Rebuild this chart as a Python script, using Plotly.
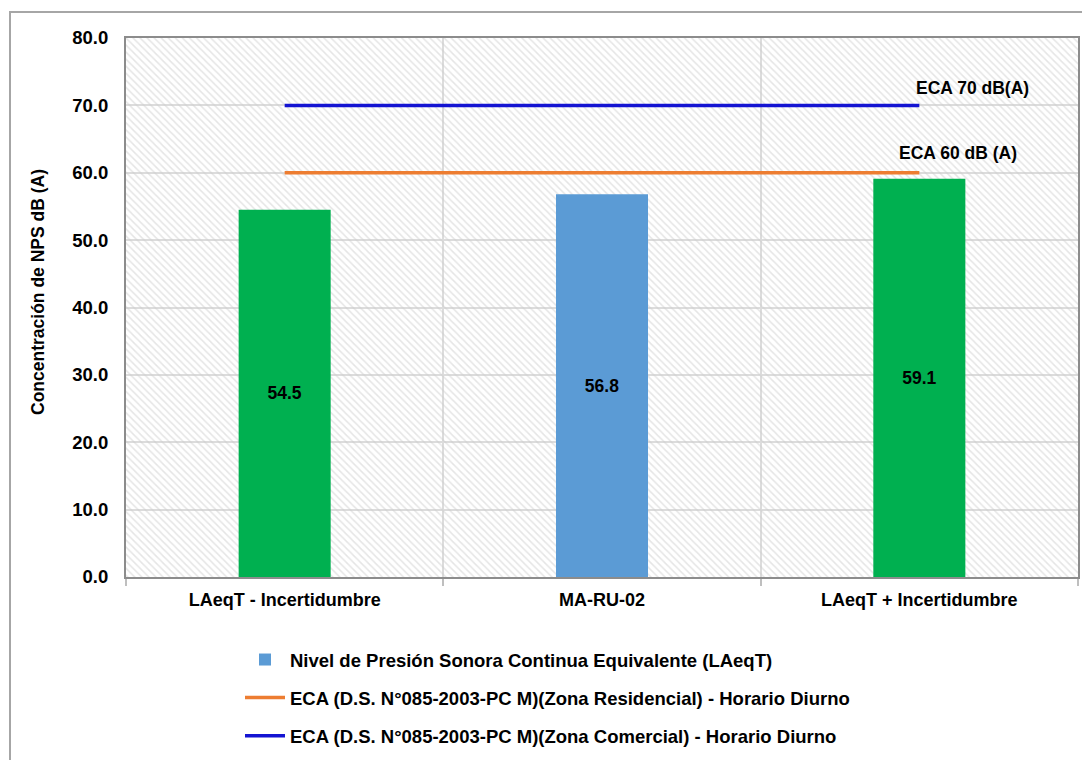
import plotly.graph_objects as go

categories = ["LAeqT - Incertidumbre", "MA-RU-02", "LAeqT + Incertidumbre"]
laeqt_values = [54.5, 56.8, 59.1]
eca_residencial = [60.0, 60.0, 60.0]
eca_comercial = [70.0, 70.0, 70.0]
y_ticks = [0, 10, 20, 30, 40, 50, 60, 70, 80]

FONT = "Liberation Sans, Arial, sans-serif"
GREEN = "#00B050"
BLUE_BAR = "#5B9BD5"
ORANGE = "#ED7D31"
BLUE_LINE = "#1414D2"

fig = go.Figure()

# hatched background of the plot area
fig.add_trace(go.Bar(
    x=[categories[1]], y=[y_ticks[-1]], width=[3],
    marker=dict(color="rgba(0,0,0,0)", line=dict(width=0),
                pattern=dict(shape="\\", fgcolor="#cccccc", bgcolor="rgba(0,0,0,0)",
                             size=5, solidity=0.3, fillmode="overlay")),
    showlegend=False, hoverinfo="skip", legendgroup="bg",
))

# green bars (uncertainty bounds)
fig.add_trace(go.Bar(
    x=[categories[0], categories[2]], y=[laeqt_values[0], laeqt_values[2]],
    width=0.29, marker=dict(color=GREEN, line=dict(width=0)),
    text=[f"{laeqt_values[0]:.1f}", f"{laeqt_values[2]:.1f}"],
    textposition="inside", insidetextanchor="middle",
    textfont=dict(family=FONT, size=17.5, color="black", weight="bold"),
    showlegend=False, legendgroup="g0",
))

# blue bar
fig.add_trace(go.Bar(
    x=[categories[1]], y=[laeqt_values[1]],
    width=0.29, marker=dict(color=BLUE_BAR, line=dict(width=0)),
    text=[f"{laeqt_values[1]:.1f}"],
    textposition="inside", insidetextanchor="middle",
    textfont=dict(family=FONT, size=17.5, color="black", weight="bold"),
    name="Nivel de Presión Sonora Continua Equivalente (LAeqT)",
    legendgroup="g1",
))

fig.add_trace(go.Scatter(
    x=categories, y=eca_residencial, mode="lines",
    line=dict(color=ORANGE, width=3.5),
    name="ECA (D.S. N°085-2003-PC M)(Zona Residencial) - Horario Diurno",
    legendgroup="g2",
))
fig.add_trace(go.Scatter(
    x=categories, y=eca_comercial, mode="lines",
    line=dict(color=BLUE_LINE, width=3.5),
    name="ECA (D.S. N°085-2003-PC M)(Zona Comercial) - Horario Diurno",
    legendgroup="g3",
))

# page offset (body margin) of the rendered figure
OFF = 8
W, H = 1090 - OFF, 760 - OFF
L, T = 126 - OFF, 38 - OFF
R = W - (1078 - OFF)
B = H - (577 - OFF)
pw, ph = W - L - R, H - T - B

def px_x(px):
    return (px - OFF - L) / pw

def px_y(py):
    return (H - B - (py - OFF)) / ph

def cont_y(py):
    return 1 - (py - OFF) / H

fig.update_layout(
    width=W, height=H,
    margin=dict(l=L, r=R, t=T, b=B, autoexpand=False),
    paper_bgcolor="white", plot_bgcolor="white",
    barmode="overlay",
    font=dict(family=FONT, size=18, color="black"),
    showlegend=True,
    legend=dict(
        xref="paper", yref="container",
        x=px_x(240), y=cont_y(641), xanchor="left", yanchor="top",
        orientation="v", traceorder="grouped", tracegroupgap=11,
        font=dict(family=FONT, size=18.5, color="black", weight="bold"),
        bgcolor="rgba(0,0,0,0)", itemwidth=40,
    ),
    xaxis=dict(
        type="category", categoryorder="array", categoryarray=categories,
        range=[-0.5, 2.5], tickson="boundaries",
        showgrid=True, gridcolor="#dcdcdc", gridwidth=1.5,
        showline=True, mirror=True, linecolor="#8c8c8c", linewidth=2,
        ticks="outside", ticklen=7, tickcolor="#bfbfbf", tickwidth=1.5,
        ticklabelstandoff=5,
        tickfont=dict(family=FONT, size=18, color="black", weight="bold"),
        zeroline=False,
    ),
    yaxis=dict(
        range=[0, 80], tickvals=y_ticks, tickformat=".1f",
        showgrid=True, gridcolor="#dcdcdc", gridwidth=1.5,
        showline=True, mirror=True, linecolor="#8c8c8c", linewidth=2,
        ticks="", ticklabelstandoff=12,
        tickfont=dict(family=FONT, size=18.5, color="black", weight="bold"),
        zeroline=False,
    ),
    annotations=[
        dict(text="Concentración de NPS dB (A)", textangle=-90,
             xref="paper", yref="paper", x=px_x(38), y=px_y(292),
             showarrow=False, xanchor="center", yanchor="middle",
             font=dict(family=FONT, size=17.5, color="black", weight="bold")),
        dict(text="ECA 70 dB(A)", xref="paper", yref="y",
             x=px_x(972), y=72.6, showarrow=False,
             xanchor="center", yanchor="middle",
             font=dict(family=FONT, size=17.5, color="black", weight="bold")),
        dict(text="ECA 60 dB (A)", xref="paper", yref="y",
             x=px_x(958), y=62.9, showarrow=False,
             xanchor="center", yanchor="middle",
             font=dict(family=FONT, size=17.5, color="black", weight="bold")),
    ],
    shapes=[
        dict(type="rect", xref="paper", yref="paper",
             x0=px_x(10), x1=px_x(1100), y0=px_y(775), y1=px_y(12),
             line=dict(color="#a6a6a6", width=2), fillcolor="rgba(0,0,0,0)",
             layer="below"),
    ],
)

fig.write_html("out.html")
